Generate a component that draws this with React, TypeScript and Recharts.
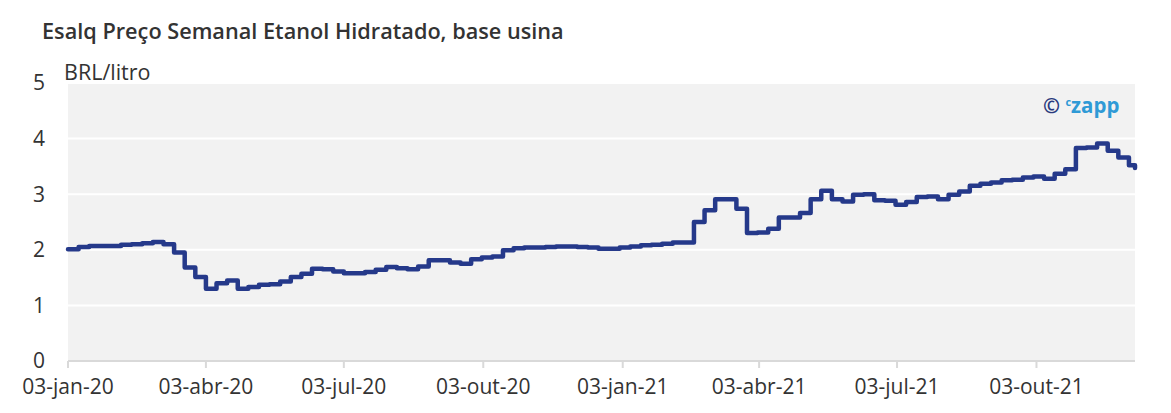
import { LineChart, Line, XAxis, YAxis, CartesianGrid } from 'recharts';

// Esalq weekly hydrated ethanol price (BRL/litro), one value per week from 03-jan-20
const weeklyPrices = [
  2.01, 2.05, 2.07, 2.07, 2.07, 2.09, 2.1, 2.12, 2.14, 2.1,
  1.95, 1.68, 1.51, 1.3, 1.4, 1.45, 1.3, 1.33, 1.37, 1.38,
  1.43, 1.51, 1.57, 1.66, 1.65, 1.61, 1.58, 1.58, 1.6, 1.64,
  1.69, 1.67, 1.65, 1.7, 1.81, 1.81, 1.77, 1.75, 1.83, 1.86,
  1.88, 1.99, 2.03, 2.04, 2.04, 2.05, 2.06, 2.06, 2.05, 2.04,
  2.02, 2.02, 2.04, 2.06, 2.08, 2.09, 2.11, 2.13, 2.13, 2.5,
  2.71, 2.91, 2.91, 2.74, 2.3, 2.31, 2.38, 2.58, 2.58, 2.66,
  2.91, 3.06, 2.91, 2.87, 2.99, 3.0, 2.89, 2.88, 2.81, 2.86,
  2.95, 2.96, 2.91, 2.99, 3.05, 3.15, 3.19, 3.21, 3.25, 3.26,
  3.3, 3.32, 3.28, 3.37, 3.45, 3.83, 3.84, 3.91, 3.78, 3.66,
  3.52,
];
const lastDay = 704;
const lastPrice = 3.47;

const tickDays = [0, 91, 182, 274, 366, 456, 547, 639];
const tickLabels = ['03-jan-20', '03-abr-20', '03-jul-20', '03-out-20', '03-jan-21', '03-abr-21', '03-jul-21', '03-out-21'];
const yTicks = [0, 1, 2, 3, 4, 5];

const data = weeklyPrices
  .map((price, i) => ({ day: i * 7, price }))
  .concat([{ day: lastDay, price: lastPrice }]);

const FONT = '"Open Sans", sans-serif';

export default function App() {
  const formatTick = (day: number) => tickLabels[tickDays.indexOf(day)] ?? '';

  return (
    <div style={{ position: 'absolute', left: 0, top: 0, width: 1171, height: 413, background: '#fff', fontFamily: FONT }}>
      <div style={{ position: 'absolute', left: 42, top: 17, fontSize: 21.7, fontWeight: 600, lineHeight: '28px', color: '#333', whiteSpace: 'nowrap' }}>
        Esalq Preço Semanal Etanol Hidratado, base usina
      </div>
      <div style={{ position: 'absolute', left: 64, top: 58, fontSize: 21.5, lineHeight: '28px', color: '#333', whiteSpace: 'nowrap' }}>
        BRL/litro
      </div>
      <LineChart width={1171} height={413} data={data} margin={{ top: 83, right: 36, bottom: 20, left: 0 }}>
        <CartesianGrid vertical={false} stroke="#ffffff" strokeWidth={2} fill="#f2f2f2" fillOpacity={1} />
        <XAxis
          type="number"
          dataKey="day"
          domain={[0, lastDay]}
          ticks={tickDays}
          tickFormatter={formatTick}
          height={32}
          axisLine={{ stroke: '#d9d9d9', strokeWidth: 2 }}
          tickLine={{ stroke: '#d9d9d9', strokeWidth: 2 }}
          tickSize={7}
          tickMargin={11}
          tick={{ fill: '#333', fontSize: 21, fontFamily: FONT }}
          interval={0}
        />
        <YAxis
          domain={[0, 5]}
          ticks={yTicks}
          width={68}
          axisLine={false}
          tickLine={false}
          tickMargin={17}
          tick={{ fill: '#333', fontSize: 21, fontFamily: FONT }}
        />
        <Line
          type="stepAfter"
          dataKey="price"
          stroke="#25398a"
          strokeWidth={4.5}
          strokeLinejoin="round"
          strokeLinecap="round"
          dot={false}
          activeDot={false}
          isAnimationActive={false}
        />
      </LineChart>
      <div style={{ position: 'absolute', left: 1043, top: 92, fontSize: 20.5, fontWeight: 700, lineHeight: '26px', whiteSpace: 'nowrap' }}>
        <span style={{ color: '#2b3a7e' }}>©</span>{' '}
        <span style={{ color: '#2f9ad6' }}>
          <span style={{ fontSize: 11, position: 'relative', top: -7 }}>c</span>zapp
        </span>
      </div>
    </div>
  );
}
